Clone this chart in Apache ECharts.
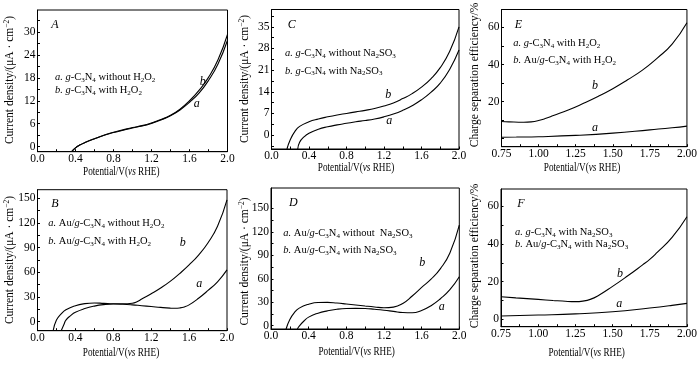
<!DOCTYPE html>
<html><head><meta charset="utf-8">
<script src="https://cdn.jsdelivr.net/npm/echarts@6/dist/echarts.min.js"></script>
<style>html,body{margin:0;padding:0;background:#fff}#c{width:700px;height:371px}</style>
</head><body><div id="c"></div>
<script>
// ---------- Data ----------
// Panel A: g-C3N4 without / with H2O2
const A_x = [0.36,0.4,0.45,0.5,0.6,0.7,0.8,0.9,1.0,1.1,1.2,1.3,1.4,1.5,1.6,1.7,1.8,1.9,2.0];
const A_a = [-1.3,-0.3,0.5,1.1,2.1,3.0,3.7,4.3,4.9,5.4,6.1,7.0,8.1,9.6,11.6,14.0,17.3,21.6,27.8];
const A_b = [-1.3,-0.3,0.5,1.1,2.1,3.0,3.8,4.4,5.0,5.5,6.2,7.1,8.2,9.8,12.0,14.7,18.1,22.7,29.3];
// Panel C: g-C3N4 without / with Na2SO3
const C_ax = [0.28,0.3,0.35,0.4,0.5,0.6,0.7,0.8,0.9,1.0,1.1,1.2,1.3,1.4,1.5,1.6,1.7,1.8,1.9,2.0];
const C_a  = [-4.5,-2.3,-0.5,0.6,1.9,2.7,3.3,3.8,4.3,4.7,5.2,5.9,6.8,8.0,9.5,11.4,13.8,16.8,21.2,27.5];
const C_bx = [0.165,0.2,0.25,0.3,0.4,0.5,0.6,0.7,0.8,0.9,1.0,1.1,1.2,1.3,1.4,1.5,1.6,1.7,1.8,1.9,2.0];
const C_b  = [-4.5,-1.5,1.2,2.8,4.3,5.2,5.9,6.5,7.0,7.5,8.0,8.6,9.4,10.4,11.8,13.4,15.5,18.2,21.8,27.0,35.0];
// Panel E: charge separation efficiency, H2O2
const E_ax = [0.75,0.85,1.0,1.25,1.5,1.75,1.9,2.0];
const E_a  = [0.8,0.9,1.1,1.8,3.0,4.8,5.9,6.8];
const E_bx = [0.75,0.8,0.9,0.95,1.0,1.05,1.1,1.2,1.3,1.4,1.5,1.6,1.7,1.8,1.9,2.0];
const E_b  = [9.3,9.1,8.9,9.1,9.8,11.0,12.5,15.5,19.0,22.8,27.0,31.8,37.0,43.5,51.0,62.5];
// Panel B: Au/g-C3N4 without / with H2O2
const B_ax = [0.25,0.28,0.3,0.35,0.4,0.5,0.6,0.7,0.8,0.9,1.0,1.1,1.2,1.3,1.4,1.45,1.5,1.55,1.6,1.7,1.8,1.9,2.0];
const B_a  = [-11,-3,2,7.5,11.5,16.0,19.0,20.8,21.5,21.2,20.5,19.5,18.5,17.4,16.5,16.3,16.7,18.0,20.5,28.5,38.0,48.5,63.0];
const B_bx = [0.165,0.2,0.25,0.3,0.4,0.5,0.6,0.7,0.8,0.9,1.0,1.05,1.1,1.2,1.3,1.4,1.5,1.6,1.7,1.8,1.9,2.0];
const B_b  = [-11,2,9.5,14.5,19.5,22.0,22.8,22.3,21.8,21.8,22.5,24.3,27.5,34.0,41.0,49.0,58.5,69.0,81.0,96.0,116.0,148.0];
// Panel D: Au/g-C3N4 without / with Na2SO3
const D_ax = [0.28,0.3,0.35,0.4,0.5,0.6,0.7,0.8,0.9,1.0,1.1,1.2,1.3,1.4,1.5,1.6,1.7,1.8,1.9,2.0];
const D_a  = [-4.2,-0.5,6,11.0,16.0,19.0,21.0,22.0,22.2,22.0,21.0,19.8,18.3,16.8,16.5,19.5,25.5,34.5,46.0,62.5];
const D_bx = [0.16,0.2,0.25,0.3,0.4,0.5,0.6,0.7,0.8,0.9,1.0,1.1,1.2,1.3,1.4,1.5,1.6,1.7,1.8,1.9,2.0];
const D_b  = [-4.2,8.0,17.0,22.5,27.5,29.7,29.8,29.0,27.8,26.5,25.2,24.0,23.0,23.8,28.5,38.0,49.0,59.5,73.0,93.0,128.5];
// Panel F: charge separation efficiency, Na2SO3
const F_ax = [0.75,1.0,1.25,1.5,1.75,1.9,2.0];
const F_a  = [1.8,2.3,2.9,4.0,6.0,7.4,8.5];
const F_bx = [0.75,0.85,1.0,1.1,1.2,1.25,1.3,1.35,1.4,1.5,1.6,1.7,1.75,1.8,1.9,2.0];
const F_b  = [12.0,11.4,10.6,10.0,9.5,9.4,9.7,10.6,12.4,17.5,23.0,28.8,31.8,35.5,43.5,54.5];

// Tick labels / tick positions
const xLabelsV = [0,0.4,0.8,1.2,1.6,2.0];
const xTicksV = [0,0.2,0.4,0.6,0.8,1.0,1.2,1.4,1.6,1.8,2.0];
const xLabelsE = [0.75,1.0,1.25,1.5,1.75,2.0];
const xTicksE = [0.75,0.875,1.0,1.125,1.25,1.375,1.5,1.625,1.75,1.875,2.0];
const yLabelsA = [0,6,12,18,24,30];
const yTicksA = [0,3,6,9,12,15,18,21,24,27,30,33];
const yLabelsC = [0,7,14,21,28,35];
const yTicksC = [-3.5,0,3.5,7,10.5,14,17.5,21,24.5,28,31.5,35,38.5];
const yLabelsE = [20,40,60];
const yTicksE = [0,10,20,30,40,50,60];
const yLabelsB = [0,30,60,90,120,150];
const yTicksB = [0,15,30,45,60,75,90,105,120,135,150];
const yLabelsF = [0,20,40,60];
const yTicksF = [0,10,20,30,40,50,60];

// ---------- Layout ----------
const FONT = 'Liberation Serif';
const panels = [
  {grid:{left:37.5,top:10,width:190,height:141.7}, x:[0,2], y:[-1.3,35.7], xl:xLabelsV, xt:xTicksV, yl:yLabelsA, yt:yTicksA, dec:1,
   a:[A_x,A_a], b:[A_x,A_b]},
  {grid:{left:271.5,top:9.5,width:187.5,height:139.5}, x:[0,2], y:[-4.5,40.6], xl:xLabelsV, xt:xTicksV, yl:yLabelsC, yt:yTicksC, dec:1,
   a:[C_ax,C_a], b:[C_bx,C_b]},
  {grid:{left:501.5,top:9.5,width:187.5,height:137.2}, x:[0.75,2], y:[-4.3,69.7], xl:xLabelsE, xt:xTicksE, yl:yLabelsE, yt:yTicksE, dec:2,
   a:[E_ax,E_a], b:[E_bx,E_b]},
  {grid:{left:37.5,top:189.7,width:189.5,height:141}, x:[0,2], y:[-10.9,160.4], xl:xLabelsV, xt:xTicksV, yl:yLabelsB, yt:yTicksB, dec:1,
   a:[B_ax,B_a], b:[B_bx,B_b]},
  {grid:{left:271,top:188,width:188.3,height:141}, x:[0,2], y:[-4.2,176], xl:xLabelsV, xt:xTicksV, yl:yLabelsB, yt:yTicksB, dec:1,
   a:[D_ax,D_a], b:[D_bx,D_b]},
  {grid:{left:501,top:189,width:188,height:137.7}, x:[0.75,2], y:[-3.9,69.2], xl:xLabelsE, xt:xTicksE, yl:yLabelsF, yt:yTicksF, dec:2,
   a:[F_ax,F_a], b:[F_bx,F_b]}
];

const grids=[], xAxes=[], yAxes=[], series=[];
panels.forEach((p,i)=>{
  grids.push(Object.assign({show:true, borderColor:'#000', borderWidth:1, backgroundColor:'transparent'}, p.grid));
  xAxes.push({type:'value', gridIndex:i, min:p.x[0], max:p.x[1],
    axisLine:{show:true, onZero:false, lineStyle:{color:'#000',width:1}},
    axisTick:{show:true, inside:true, length:2.5, customValues:p.xt, lineStyle:{color:'#000'}},
    axisLabel:{customValues:p.xl, color:'#000', fontFamily:FONT, fontSize:11.5, margin:1,
      formatter:v=>Number(v).toFixed(p.dec)},
    splitLine:{show:false}});
  yAxes.push({type:'value', gridIndex:i, min:p.y[0], max:p.y[1],
    axisLine:{show:true, onZero:false, lineStyle:{color:'#000',width:1}},
    axisTick:{show:true, inside:true, length:2.5, customValues:p.yt, lineStyle:{color:'#000'}},
    axisLabel:{customValues:p.yl, color:'#000', fontFamily:FONT, fontSize:11.5, margin:2},
    splitLine:{show:false}});
  [p.a,p.b].forEach(s=>{
    series.push({type:'line', xAxisIndex:i, yAxisIndex:i, data:s[0].map((x,k)=>[x,s[1][k]]),
      showSymbol:false, smooth:0.5, clip:true, silent:true,
      lineStyle:{color:'#000', width:1.1}});
  });
});

// ---------- Texts ----------
const rich = {
  n:{fontFamily:FONT, fontSize:10.5, fill:'#000', color:'#000'},
  i:{fontFamily:FONT, fontSize:10.5, fontStyle:'italic', fill:'#000', color:'#000'},
  s:{fontFamily:FONT, fontSize:7, fill:'#000', color:'#000', verticalAlign:'bottom', padding:[5,0,0,0]},
  sup:{fontFamily:FONT, fontSize:7.5, fill:'#000', color:'#000', verticalAlign:'top', padding:[0,0,5,0]},
  y:{fontFamily:FONT, fontSize:11.5, fill:'#000', color:'#000'},
  yi:{fontFamily:FONT, fontSize:11.5, fontStyle:'italic', fill:'#000', color:'#000'}
};
const g = [];
function txt(x,y,text,opt){
  g.push(Object.assign({type:'text', x:x, y:y, silent:true,
    style:Object.assign({text:text, rich:rich, fill:'#000', fontFamily:FONT, fontSize:10.5,
      textAlign:'left', textVerticalAlign:'middle'}, (opt&&opt.style)||{})}, (opt&&opt.el)||{}));
}
const gcn = '{i|g}{n|-C}{s|3}{n|N}{s|4}';
const leg = [
  [55,77.3,  '{i|a.} '+gcn+'{n| without H}{s|2}{n|O}{s|2}'],
  [55,90.7,  '{i|b.} '+gcn+'{n| with H}{s|2}{n|O}{s|2}'],
  [285,53.3, '{i|a.} '+gcn+'{n| without Na}{s|2}{n|SO}{s|3}'],
  [285,71,   '{i|b.} '+gcn+'{n| with Na}{s|2}{n|SO}{s|3}'],
  [513.3,43.3,'{i|a.} '+gcn+'{n| with H}{s|2}{n|O}{s|2}'],
  [513.3,60.5,'{i|b.} {n|Au/}'+gcn+'{n| with H}{s|2}{n|O}{s|2}'],
  [48.3,223.3,'{i|a.} {n|Au/}'+gcn+'{n| without H}{s|2}{n|O}{s|2}'],
  [48.3,241.7,'{i|b.} {n|Au/}'+gcn+'{n| with H}{s|2}{n|O}{s|2}'],
  [283.3,233.3,'{i|a.} {n|Au/}'+gcn+'{n| without  Na}{s|2}{n|SO}{s|3}'],
  [283.3,250.7,'{i|b.} {n|Au/}'+gcn+'{n| with Na}{s|2}{n|SO}{s|3}'],
  [515,232.7,'{i|a.} '+gcn+'{n| with Na}{s|2}{n|SO}{s|3}'],
  [515,244.5,'{i|b.} {n|Au/}'+gcn+'{n| with Na}{s|2}{n|SO}{s|3}']
];
leg.forEach(l=>txt(l[0],l[1],l[2]));

const letters = [['A',55,25],['C',291.7,25],['E',518.3,25],['B',55,204],['D',293.3,203.3],['F',521,204],
  ['b',202.7,81.7],['a',196.7,104],['b',388.3,95],['a',389.3,120.7],['b',595,86],['a',595,127.7],
  ['b',182.7,243.3],['a',199.3,284],['b',422.3,263.3],['a',441.7,307.3],['b',620,274],['a',619.3,304]];
letters.forEach(l=>txt(l[1],l[2],l[0],{style:{fontStyle:'italic',fontSize:12,textAlign:'center'}}));

const xName = '{y|Potential/V(}{yi|vs}{y| RHE)}';
[[121.3,172],[356,167.5],[582,167.5],[121,353.3],[356.7,352.3],[586.7,353.3]].forEach(p=>
  txt(p[0],p[1],xName,{style:{textAlign:'center'}, el:{scaleX:0.8}}));

const yCur = '{y|Current density/(μA · cm}{sup|−2}{y|)}';
const yEff = '{y|Charge separation efficiency/%}';
[[10,80,yCur],[245,79,yCur],[475,75,yEff],[10,260,yCur],[245,261.5,yCur],[475,256,yEff]].forEach(p=>
  txt(p[0],p[1],p[2],{style:{textAlign:'center'}, el:{rotation:Math.PI/2}}));

const chart = echarts.init(document.getElementById('c'), null, {renderer:'canvas'});
chart.setOption({animation:false, backgroundColor:'#fff', grid:grids, xAxis:xAxes, yAxis:yAxes, series:series, graphic:g});
</script></body></html>
